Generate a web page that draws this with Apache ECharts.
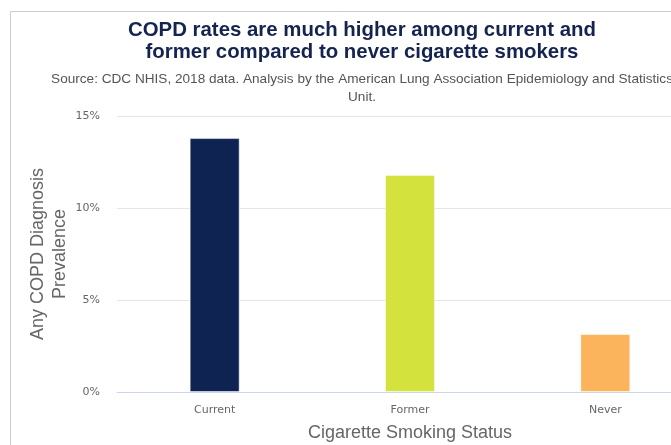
<!DOCTYPE html>
<html>
<head>
<meta charset="utf-8">
<script src="https://cdn.jsdelivr.net/npm/echarts@6/dist/echarts.min.js"></script>
<style>
  html, body { margin: 0; padding: 0; background: #fff; }
  #chart { width: 671px; height: 445px; }
</style>
</head>
<body>
<div id="chart"></div>
<script>
const categories = ["Current", "Former", "Never"];
const prevalence = [13.8, 11.8, 3.15];
const barColors = ["#0e2352", "#d3e23c", "#fbb45c"];
const yTicks = [0, 5, 10, 15];

const chart = echarts.init(document.getElementById("chart"));
chart.setOption({
  animation: false,
  title: {
    text: "COPD rates are much higher among current and\nformer compared to never cigarette smokers",
    subtext: "Source: CDC NHIS, 2018 data. Analysis by the American Lung Association Epidemiology and Statistics\nUnit.",
    left: 357,
    top: 14,
    textAlign: "center",
    itemGap: 7,
    textStyle: {
      fontFamily: "Liberation Sans",
      fontWeight: "bold",
      fontSize: 20.4,
      lineHeight: 22,
      color: "#14244f"
    },
    subtextStyle: {
      fontFamily: "Liberation Sans",
      fontSize: 13.6,
      lineHeight: 18,
      color: "#555"
    }
  },
  // card frame, cut off on the right and bottom like the reference
  graphic: [{
    type: "rect",
    shape: { x: 10.5, y: 11.5, width: 800, height: 500 },
    style: { fill: "none", stroke: "#cccccc", lineWidth: 1 },
    silent: true
  }],
  grid: {
    left: 117, width: 586, top: 116, height: 276,
    containLabel: false,
    outerBoundsMode: "none"
  },
  xAxis: {
    type: "category",
    data: categories,
    name: "Cigarette Smoking Status",
    nameLocation: "middle",
    nameGap: 32,
    nameMoveOverlap: false,
    nameTextStyle: { fontFamily: "Liberation Sans", fontSize: 18, color: "#666" },
    axisLine: { lineStyle: { color: "#ccd6eb" } },
    axisTick: { show: false },
    axisLabel: { fontFamily: "DejaVu Sans", fontSize: 11, color: "#666", margin: 13 }
  },
  yAxis: {
    type: "value",
    min: yTicks[0],
    max: yTicks[yTicks.length - 1],
    interval: 5,
    name: "Any COPD Diagnosis\nPrevalence",
    nameLocation: "middle",
    nameGap: 46,
    nameMoveOverlap: false,
    nameTextStyle: { fontFamily: "Liberation Sans", fontSize: 18, lineHeight: 22, color: "#666" },
    axisLabel: { fontFamily: "DejaVu Sans", fontSize: 11, color: "#666", margin: 17, formatter: "{value}%" },
    splitLine: { lineStyle: { color: "#e6e6e6" } }
  },
  series: [{
    type: "bar",
    barWidth: 50,
    data: prevalence.map((v, i) => ({
      value: v,
      itemStyle: { color: barColors[i], borderColor: "rgba(255,255,255,0.5)", borderWidth: 1 }
    }))
  }]
});
</script>
</body>
</html>
